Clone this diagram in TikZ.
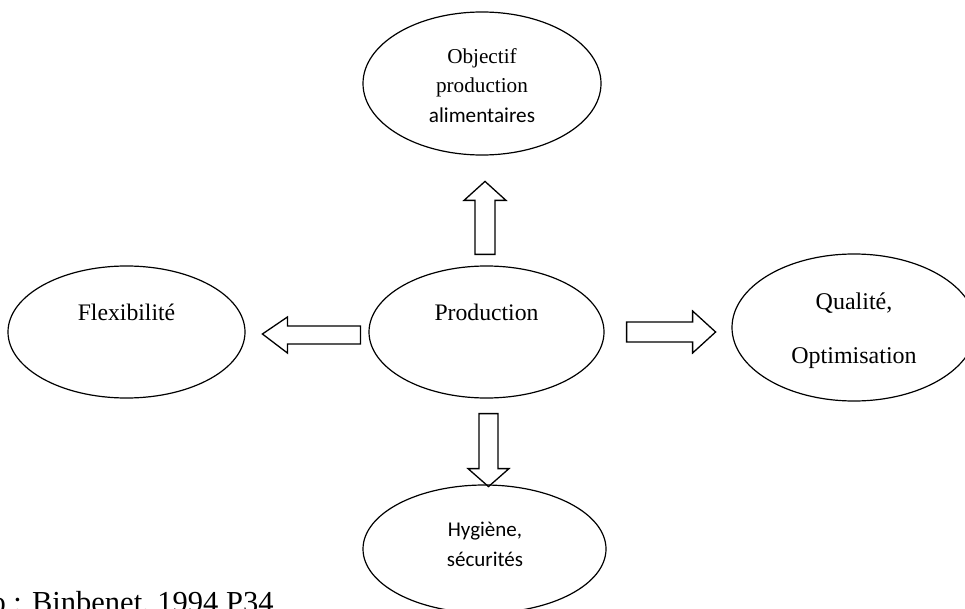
\documentclass[tikz,border=0pt]{standalone}
\usepackage{fontspec}
\setmainfont{Liberation Serif}
\newfontfamily\calibri{Carlito}
\usetikzlibrary{shapes.geometric, calc}

\begin{document}
\begin{tikzpicture}[
    x=1pt, y=-1pt,
    line width=1.2pt,
    bubble/.style={draw, ellipse, inner sep=0pt},
    txt/.style={inner sep=0pt, align=center, font=\fontsize{23.7}{28}\selectfont},
    blockarrow/.style={draw, line width=1.3pt, line join=miter, miter limit=10}
]{
    \useasboundingbox (0,0) rectangle (965,609);
    \clip (0,0) rectangle (965,609);

    \node[bubble, minimum width=238pt, minimum height=143pt](objectif) at (482, 83.5){};
    \node[bubble, minimum width=237pt, minimum height=132pt](flexibilite) at (126.5, 332){};
    \node[bubble, minimum width=235pt, minimum height=132pt](production) at (486.5, 332){};
    \node[bubble, minimum width=244pt, minimum height=147pt](qualite) at (854, 327.5){};
    \node[bubble, minimum width=243pt, minimum height=128pt](hygiene) at (484.5, 549){};

    % Texts
    \node[txt, font=\fontsize{21.2}{29.5}\selectfont](objectif_text) at (482, 85.3){Objectif\\production\\{\calibri alimentaires}};
    \node[txt](flexibilite_text) at ($(flexibilite.center) + (0, -20)$){Flexibilité};
    \node[txt](production_text) at ($(production.center) + (0, -20)$){Production};
    \node[txt, font=\fontsize{24}{54}\selectfont](qualite_text) at (854, 330.5){Qualité,\\Optimisation};
    \node[txt, font=\calibri\fontsize{21}{30}\selectfont](hygiene_text) at (485, 544.5){Hygiène,\\sécurités};

    \node[txt, anchor=base west, font=\fontsize{30.5}{36}\selectfont](source) at (-10, 612){o : Binbenet, 1994 P34};

    % Block arrows
    \draw[blockarrow]($(production.north) + (-11.5, -11)$) -- ++(0, -54) -- ++(-11, 0) -- ++(21, -19) -- ++(21, 19) -- ++(-11, 0) -- ++(0, 54) -- cycle;
    \draw[blockarrow]($(production.west) + (-8, -6)$) -- ++(-73, 0) -- ++(0, -9) -- ++(-25, 17) -- ++(25, 19) -- ++(0, -9) -- ++(73, 0) -- cycle;
    \draw[blockarrow]($(production.east) + (22, -10)$) -- ++(66, 0) -- ++(0, -11) -- ++(23, 21) -- ++(-23, 21) -- ++(0, -11) -- ++(-66, 0) -- cycle;
    \draw[blockarrow]($(production.south) + (-7.5, 15)$) -- ++(0, 55) -- ++(-11, 0) -- ++(20.5, 18) -- ++(20.5, -18) -- ++(-11, 0) -- ++(0, -55) -- cycle;
}
\end{tikzpicture}
\end{document}
